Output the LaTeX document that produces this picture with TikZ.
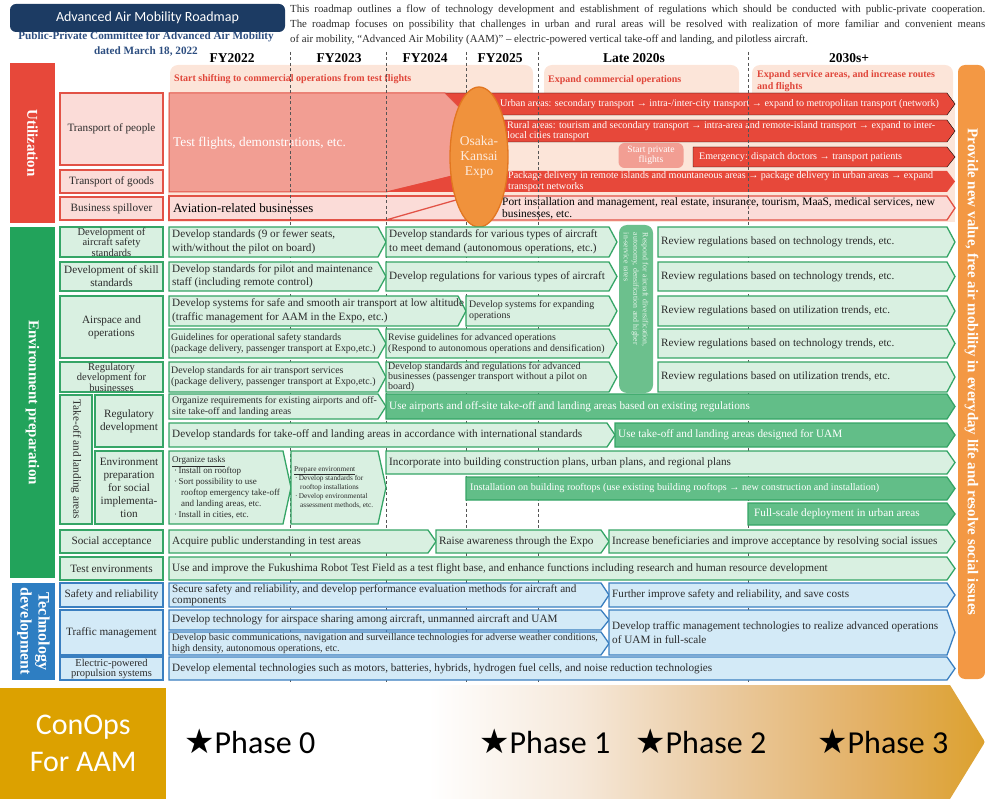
\documentclass[tikz,border=0pt]{standalone}
\usepackage{fontspec}
\setmainfont{Liberation Serif}
\newfontfamily\calibfont{Carlito}
\newfontfamily\symbfont{DejaVu Sans}
\usepackage{tikz}
\usetikzlibrary{shapes,positioning,calc}

\definecolor{navy}{HTML}{1C3B63}
\definecolor{cmtblue}{HTML}{2D4E80}
\definecolor{inktext}{HTML}{2B2B2B}
\definecolor{peach}{HTML}{FCE5D9}
\definecolor{redbar}{HTML}{E7483A}
\definecolor{redline}{HTML}{E25246}
\definecolor{redtxt}{HTML}{E0463A}
\definecolor{pinklab}{HTML}{FBDCD8}
\definecolor{salmon}{HTML}{F29E93}
\definecolor{expo}{HTML}{F0923C}
\definecolor{expoline}{HTML}{E27620}
\definecolor{expotxt}{HTML}{FDEBDD}
\definecolor{orangebar}{HTML}{F39844}
\definecolor{greenbar}{HTML}{22A35B}
\definecolor{greenline}{HTML}{35A566}
\definecolor{greenlab}{HTML}{D9F0E1}
\definecolor{greenmid}{HTML}{62BE88}
\definecolor{respgreen}{HTML}{6CC08D}
\definecolor{resptxt}{HTML}{EAF6EE}
\definecolor{bluebar}{HTML}{2E7EC2}
\definecolor{blueline}{HTML}{3A7FC0}
\definecolor{bluelab}{HTML}{D3EAF7}
\definecolor{dashgray}{HTML}{555555}
\definecolor{gold}{HTML}{DCA100}
\definecolor{fadeA}{HTML}{F6E9DB}
\definecolor{fadeB}{HTML}{EBCDA6}
\definecolor{fadeC}{HTML}{E3B064}
\definecolor{goldend}{HTML}{DCA12E}

\pgfdeclarehorizontalshading{phasefade}{100bp}{color(0bp)=(white); color(41bp)=(white); color(50bp)=(fadeA); color(58bp)=(fadeB); color(68bp)=(fadeC); color(75bp)=(goldend); color(100bp)=(goldend)}

% box with a pointed right end, text in its own node
% [indent]{name}{style}{x1}{x2}{y1}{y2}{text}
\newcommand\chev[8][3]{%
  \draw[#3] (#4,#6) -- ({#5-8},#6) -- (#5,{(#6+#7)/2}) -- ({#5-8},#7) -- (#4,#7) -- cycle;
  \node[#3 txt] (#2) at ({#4+#1},{(#6+#7)/2}) {#8};}
% plain row label {name}{style}{x1}{x2}{y1}{y2}{text}
\newcommand\rowlabel[7]{%
  \node[#2, minimum width={#4-#3}, minimum height={#6-#5}] (#1) at ({(#3+#4)/2},{(#5+#6)/2}) {#7};}

\begin{document}
\begin{tikzpicture}[x=1pt,y=-1pt]
  \tikzstyle{every node}=[inner sep=0pt]
  \tikzstyle{year}=[text=black, font=\bfseries\fontsize{13.5}{15}\selectfont]
  \tikzstyle{hdr}=[anchor=west, align=left, text=redtxt, font=\bfseries\fontsize{10}{11.5}\selectfont]
  \tikzstyle{committee}=[text=cmtblue, font=\bfseries\fontsize{11.2}{13}\selectfont]
  \tikzstyle{bar}=[rotate=-90, align=center, text=white, font=\bfseries\fontsize{15}{17}\selectfont]
  \tikzstyle{rlab}=[draw=redline, fill=pinklab, line width=1.3pt, align=center, text=inktext, font=\fontsize{11.2}{13}\selectfont]
  \tikzstyle{glab}=[rlab, draw=greenline, fill=greenlab]
  \tikzstyle{glabt}=[glab, font=\fontsize{10.5}{9.5}\selectfont]
  \tikzstyle{blab}=[rlab, draw=blueline, fill=bluelab]
  \tikzstyle{blabt}=[blab, font=\fontsize{10.5}{10}\selectfont]
  \tikzstyle{lg}=[fill=greenlab, draw=greenline, line width=1.3pt]
  \tikzstyle{lg txt}=[anchor=west, align=left, text=inktext, font=\fontsize{11.2}{13.5}\selectfont]
  \tikzstyle{lgs}=[lg]
  \tikzstyle{lgs txt}=[lg txt, font=\fontsize{9.9}{11}\selectfont]
  \tikzstyle{lgx}=[lg]
  \tikzstyle{lgx txt}=[lg txt, font=\fontsize{10}{10}\selectfont]
  \tikzstyle{lgt}=[lg]
  \tikzstyle{lgt txt}=[lg txt, font=\fontsize{9}{11}\selectfont]
  \tikzstyle{lgu}=[lg]
  \tikzstyle{lgu txt}=[lg txt, font=\fontsize{7.3}{9}\selectfont]
  \tikzstyle{mg}=[fill=greenmid, draw=greenline, line width=1.3pt]
  \tikzstyle{mg txt}=[lg txt, text=white]
  \tikzstyle{mgs}=[mg]
  \tikzstyle{mgs txt}=[mg txt, font=\fontsize{10.1}{12}\selectfont]
  \tikzstyle{lb}=[fill=bluelab, draw=blueline, line width=1.3pt]
  \tikzstyle{lb txt}=[lg txt]
  \tikzstyle{lbs}=[lb]
  \tikzstyle{lbs txt}=[lg txt, font=\fontsize{11.2}{11}\selectfont]
  \tikzstyle{lbx}=[lb]
  \tikzstyle{lbx txt}=[lg txt, font=\fontsize{10.1}{10.5}\selectfont]
  \tikzstyle{rd}=[fill=redbar]
  \tikzstyle{rd txt}=[lg txt, text=white, font=\fontsize{10.1}{10.8}\selectfont]
  \tikzstyle{pk}=[fill=pinklab, draw=redline, line width=1.3pt]
  \tikzstyle{pk txt}=[lg txt, text=black, font=\fontsize{11.4}{12}\selectfont]
  \tikzstyle{timeline}=[draw=dashgray, line width=0.7pt, dash pattern=on 3pt off 2.5pt]
  \tikzstyle{phase}=[anchor=base west, text=black, font=\calibfont\fontsize{32}{36}\selectfont]

  \useasboundingbox (0,0) rectangle (985,799);

  % title block
  \node[fill=navy, rounded corners=6, minimum width=275, minimum height=28, text=white,
    font=\calibfont\fontsize{14}{16}\selectfont] (title) at (147.5,18) {Advanced Air Mobility Roadmap};
  \node[committee] (cmte) at (146,37) {Public-Private Committee for Advanced Air Mobility};
  \node[committee] (date) at (146,51) {dated March 18, 2022};
  \node[anchor=north west, align=left, text=inktext, font=\fontsize{10.8}{15}\selectfont] (intro) at (290,5)
    {\makebox[695pt][s]{This roadmap outlines a flow of technology development and establishment of regulations which should be conducted with public-private cooperation.}\\
     \makebox[695pt][s]{The roadmap focuses on possibility that challenges in urban and rural areas will be resolved with realization of more familiar and convenient means}\\
     of air mobility, “Advanced Air Mobility (AAM)” – electric-powered vertical take-off and landing, and pilotless aircraft.};

  % years
  \node[year] (fy22) at (232,58) {FY2022};
  \node[year] (fy23) at (339,58) {FY2023};
  \node[year] (fy24) at (425,58) {FY2024};
  \node[year] (fy25) at (500,58) {FY2025};
  \node[year] (late) at (634,58) {Late 2020s};
  \node[year] (next) at (849,58) {2030s+};

  % utilization background
  \fill[peach, rounded corners=8] (170,65) rectangle (533,120);
  \fill[peach, rounded corners=8] (544,65) rectangle (739,120);
  \fill[peach, rounded corners=8] (752,65) rectangle (953,120);
  \fill[peach] (168,100) rectangle (955,222);
  \node[hdr] (shift) at (174,79) {Start shifting to commercial operations from test flights};
  \node[hdr] (expand) at (548,80) {Expand commercial operations};
  \node[hdr] (service) at (757,81) {Expand service areas, and increase routes\\and flights};

  \chev[55]{urban}{rd}{445}{955}{93}{115}{Urban areas: secondary transport → intra-/inter-city transport → expand to metropolitan transport (network)}
  \chev[37]{rural}{rd}{470}{955}{120}{142}{Rural areas: tourism and secondary transport → intra-area and remote-island transport → expand to inter-\\local cities transport}
  \chev[6]{emerg}{rd}{693}{955}{147}{167}{Emergency: dispatch doctors → transport patients}
  \node[fill=salmon, rounded corners=6, minimum width=65, minimum height=25, align=center, text=white,
    font=\fontsize{9.6}{10.5}\selectfont] (private) at (651,155.5) {Start private\\flights};

  \draw[fill=salmon, draw=redline, line width=1pt] (169,93) -- (445,93) -- (470,118) -- (470,172) -- (386,192) -- (169,192) -- cycle;
  \node[anchor=west, text=white, font=\fontsize{13.3}{15}\selectfont] (tests) at (173,143) {Test flights, demonstrations, etc.};
  \fill[rd] (386,192) -- (470,171) -- (947,171) -- (955,181.5) -- (947,192) -- cycle;
  \node[rd txt] (parcel) at (508,181.5) {Package delivery in remote islands and mountaneous areas → package delivery in urban areas → expand\\transport networks};

  \draw[pk] (169,196) rectangle (470,220);
  \node[anchor=west, text=black, font=\fontsize{12.8}{14}\selectfont] (aviation) at (173,208.5) {Aviation-related businesses};
  \draw[pk] (386,220) -- (470,196) -- (947,196) -- (955,208) -- (947,220) -- cycle;
  \node[pk txt] (port) at (502,208) {Port installation and management, real estate, insurance, tourism, MaaS, medical services, new\\businesses, etc.};

  % fiscal year borders
  \foreach \x in {290,386,466,538,748}
    \draw[timeline] (\x,52) -- (\x,684);

  \node[ellipse, draw=expoline, fill=expo, line width=1.3pt, minimum width=58, minimum height=140, align=center,
    text=expotxt, font=\fontsize{13.5}{15}\selectfont] (expo) at (479,157) {Osaka-\\Kansai\\Expo};

  % section bars
  \node[bar, fill=redbar, minimum width=160, minimum height=45] (util) at (32.5,143) {Utilization};
  \node[bar, fill=greenbar, minimum width=351, minimum height=45] (envir) at (32.5,402.5) {Environment preparation};
  \node[bar, fill=bluebar, minimum width=97, minimum height=43, font=\bfseries\fontsize{16}{18}\selectfont] (techdev) at (33.5,631.5) {Technology\\development};
  \node[bar, fill=orangebar, rounded corners=7, minimum width=614, minimum height=27, font=\bfseries\fontsize{15}{17}\selectfont] (vision) at (971.5,372)
    {Provide new value, free air mobility in everyday life and resolve social issues};

  % row labels
  \rowlabel{l-people}{rlab}{60}{163}{93}{165}{Transport of people}
  \rowlabel{l-goods}{rlab}{60}{163}{170}{193}{Transport of goods}
  \rowlabel{l-biz}{rlab}{60}{163}{197}{220}{Business spillover}
  \rowlabel{l-aircraft}{glabt}{60}{163}{227}{257}{Development of\\aircraft safety\\standards}
  \rowlabel{l-skill}{glab}{60}{163}{262}{291}{Development of skill\\standards}
  \rowlabel{l-airspace}{glab}{60}{163}{296}{358}{Airspace and\\operations}
  \rowlabel{l-business}{glabt}{60}{163}{362}{392}{Regulatory\\development for\\businesses}
  \node[glab, rotate=-90, minimum width=129, minimum height=32] (l-tola) at (76,459.5) {Take-off and landing areas};
  \rowlabel{l-regdev}{glab}{95}{163}{395}{447}{Regulatory\\development}
  \rowlabel{l-envprep}{glab}{95}{163}{451}{524}{Environment\\preparation\\for social\\implementa-\\tion}
  \rowlabel{l-social}{glab}{60}{163}{530}{553}{Social acceptance}
  \rowlabel{l-testenv}{glab}{60}{163}{557}{580}{Test environments}
  \rowlabel{l-safety}{blab}{60}{163}{583}{607}{Safety and reliability}
  \rowlabel{l-traffic}{blab}{60}{163}{610}{655}{Traffic management}
  \rowlabel{l-propul}{blabt}{60}{163}{657}{680}{Electric-powered\\propulsion systems}

  % environment preparation
  \chev{c-air1}{lg}{169}{386}{227}{257}{Develop standards (9 or fewer seats,\\with/without the pilot on board)}
  \chev{c-air2}{lg}{386}{617}{227}{257}{Develop standards for various types of aircraft\\to meet demand (autonomous operations, etc.)}
  \chev{c-air3}{lg}{658}{955}{227}{257}{Review regulations based on technology trends, etc.}
  \chev{c-skill1}{lg}{169}{386}{262}{291}{Develop standards for pilot and maintenance\\staff (including remote control)}
  \chev{c-skill2}{lg}{386}{617}{262}{291}{Develop regulations for various types of aircraft}
  \chev{c-skill3}{lg}{658}{955}{262}{291}{Review regulations based on technology trends, etc.}
  \chev{c-asp1}{lg}{169}{466}{296}{326}{Develop systems for safe and smooth air transport at low altitude\\(traffic management for AAM in the Expo, etc.)}
  \chev{c-asp2}{lgs}{466}{617}{296}{326}{Develop systems for expanding\\operations}
  \chev{c-asp3}{lg}{658}{955}{296}{326}{Review regulations based on utilization trends, etc.}
  \chev[2]{c-asp4}{lgs}{169}{386}{329}{358}{Guidelines for operational safety standards\\(package delivery, passenger transport at Expo,etc.)}
  \chev[2]{c-asp5}{lgs}{386}{617}{329}{358}{Revise guidelines for advanced operations\\(Respond to autonomous operations and densification)}
  \chev{c-asp6}{lg}{658}{955}{329}{358}{Review regulations based on technology trends, etc.}
  \chev[2]{c-biz1}{lgs}{169}{386}{362}{392}{Develop standards for air transport services\\(package delivery, passenger transport at Expo,etc.)}
  \chev[2]{c-biz2}{lgx}{386}{617}{362}{392}{Develop standards and regulations for advanced\\businesses (passenger transport without a pilot on\\board)}
  \chev{c-biz3}{lg}{658}{955}{362}{392}{Review regulations based on utilization trends, etc.}
  \node[fill=respgreen, rounded corners=8, rotate=-90, minimum width=168, minimum height=34, text width=152pt, align=left,
    text=resptxt, font=\fontsize{7.8}{9.5}\selectfont] (respond) at (636,309)
    {Respond for aircraft diversification,\\autonomy, densification and higher\\in-service rates};

  \chev{c-tol1}{lgs}{169}{386}{394}{419}{Organize requirements for existing airports and off-\\site take-off and landing areas}
  \chev{c-tol2}{mg}{386}{955}{394}{419}{Use airports and off-site take-off and landing areas based on existing regulations}
  \chev{c-tol3}{lg}{169}{615}{423}{447}{Develop standards for take-off and landing areas in accordance with international standards}
  \chev{c-tol7}{mg}{615}{955}{423}{447}{Use take-off and landing areas designed for UAM}
  \chev{c-tasks}{lgt}{169}{291}{451}{524}{\underline{Organize tasks}\\
    \hspace*{2pt}·\,Install on rooftop\\\hspace*{2pt}·\,Sort possibility to use\\\hspace*{9pt}rooftop emergency take-off\\
    \hspace*{9pt}and landing areas, etc.\\\hspace*{2pt}·\,Install in cities, etc.}
  \chev{c-prep}{lgu}{291}{386}{451}{524}{\underline{Prepare environment}\\
    \hspace*{1pt}·\,Develop standards for\\\hspace*{6pt}rooftop installations\\\hspace*{1pt}·\,Develop environmental\\\hspace*{6pt}assessment methods, etc.}
  \chev{c-tol4}{lg}{386}{955}{451}{474}{Incorporate into building construction plans, urban plans, and regional plans}
  \chev[4]{c-tol5}{mgs}{466}{955}{477}{500}{Installation on building rooftops (use existing building rooftops → new construction and installation)}
  \chev[6]{c-tol6}{mg}{748}{955}{503}{525}{Full-scale deployment in urban areas}

  \chev{c-soc1}{lg}{169}{436}{530}{553}{Acquire public understanding in test areas}
  \chev{c-soc2}{lg}{436}{609}{530}{553}{Raise awareness through the Expo}
  \chev{c-soc3}{lg}{609}{955}{530}{553}{Increase beneficiaries and improve acceptance by resolving social issues}
  \chev{c-field}{lg}{169}{955}{557}{580}{Use and improve the Fukushima Robot Test Field as a test flight base, and enhance functions including research and human resource development}

  % technology development
  \chev{c-safe1}{lbs}{169}{609}{583}{607}{Secure safety and reliability, and develop performance evaluation methods for aircraft and\\components}
  \chev{c-safe2}{lb}{609}{955}{583}{607}{Further improve safety and reliability, and save costs}
  \chev{c-tm1}{lb}{169}{609}{610}{630}{Develop technology for airspace sharing among aircraft, unmanned aircraft and UAM}
  \chev{c-tm2}{lbx}{169}{609}{632}{655}{Develop basic communications, navigation and surveillance technologies for adverse weather conditions,\\high density, autonomous operations, etc.}
  \chev{c-tm3}{lb}{609}{955}{610}{655}{Develop traffic management technologies to realize advanced operations\\of UAM in full-scale}
  \chev{c-motor}{lb}{169}{955}{657}{680}{Develop elemental technologies such as motors, batteries, hybrids, hydrogen fuel cells, and noise reduction technologies}

  % ConOps phases
  \shade[shading=phasefade] (166,685) -- (950,685) -- (985,742) -- (950,799) -- (166,799) -- cycle;
  \node[fill=gold, minimum width=166, minimum height=111, anchor=north west, align=center, text=white,
    font=\calibfont\fontsize{30}{37}\selectfont] (conops) at (0,688) {ConOps\\For AAM};
  \node[phase] (ph0) at (184,753) {{\symbfont\fontsize{34}{36}\selectfont ★}Phase 0};
  \node[phase] (ph1) at (479,753) {{\symbfont\fontsize{34}{36}\selectfont ★}Phase 1};
  \node[phase] (ph2) at (635,753) {{\symbfont\fontsize{34}{36}\selectfont ★}Phase 2};
  \node[phase] (ph3) at (817,753) {{\symbfont\fontsize{34}{36}\selectfont ★}Phase 3};
\end{tikzpicture}
\end{document}
